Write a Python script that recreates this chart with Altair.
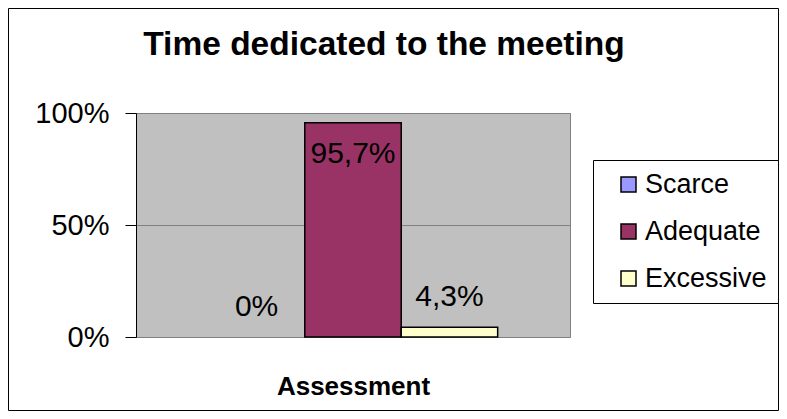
import altair as alt
import pandas as pd

categories = ["Scarce", "Adequate", "Excessive"]
values = [0.0, 95.7, 4.3]
colors = ["#9999FF", "#993366", "#FFFFCC"]
group = ["Assessment", "Assessment", "Assessment"]

df = pd.DataFrame({"group": group, "category": categories, "value": values})

FONT = "Liberation Sans"

base = alt.Chart(df).transform_calculate(
    frac="datum.value / 100",
    label="datum.value == 0 ? '0%' : replace(format(datum.value, '.1f'), '.', ',') + '%'",
)

x_enc = alt.X(
    "group:N",
    scale=alt.Scale(paddingInner=0, paddingOuter=0.25),
    axis=alt.Axis(
        labels=False, ticks=False, domain=False, title="Assessment",
        titleFont=FONT, titleFontSize=26, titleFontWeight="bold",
        titleColor="black", titlePadding=36,
    ),
)
xo_enc = alt.XOffset(
    "category:N",
    scale=alt.Scale(domain=categories, paddingInner=0, paddingOuter=0),
)
y_enc = alt.Y(
    "frac:Q",
    scale=alt.Scale(domain=[0, 1]),
    axis=alt.Axis(
        values=[0, 0.5, 1], format=".0%", title=None,
        labelFont=FONT, labelFontSize=29, labelColor="black",
        labelPadding=16, tickSize=11, tickColor="black",
        domainColor="black", domainWidth=1,
        gridColor="#808080", gridWidth=1,
    ),
)

bars = base.mark_bar(stroke="black", strokeWidth=1.5).encode(
    x=x_enc,
    xOffset=xo_enc,
    y=y_enc,
    color=alt.Color(
        "category:N",
        scale=alt.Scale(domain=categories, range=colors),
        legend=alt.Legend(
            title=None, orient="none", legendX=457, legendY=47,
            labelFont=FONT, labelFontSize=27, labelColor="black",
            symbolType="square", symbolSize=225,
            symbolStrokeColor="black", symbolStrokeWidth=1.5,
            padding=11, symbolOffset=11, labelOffset=3, rowPadding=19,
            strokeColor="black", fillColor="white",
        ),
    ),
).transform_filter("datum.value > 0")

low_text = base.mark_text(
    font=FONT, fontSize=30, color="black", baseline="alphabetic", dy=-21.5
).encode(
    x=x_enc, xOffset=xo_enc, y=y_enc, text="label:N"
).transform_filter("datum.value < 90")

high_text = base.mark_text(
    font=FONT, fontSize=30, color="black", baseline="alphabetic", dy=40
).encode(
    x=x_enc, xOffset=xo_enc, y=y_enc, text="label:N"
).transform_filter("datum.value >= 90")

frame = alt.Chart(pd.DataFrame({"f": [0]})).mark_rect(
    filled=False, stroke="black", strokeWidth=1
).encode(
    x=alt.value(-127.5), x2=alt.value(642.5),
    y=alt.value(-104.5), y2=alt.value(297.5),
)

chart = alt.layer(bars, low_text, high_text, frame).properties(
    width=434,
    height=224,
    title=alt.TitleParams(
        "Time dedicated to the meeting",
        font=FONT, fontSize=33.5, fontWeight="bold", color="black",
        anchor="middle", dx=31, offset=0, dy=54,
    ),
    padding={"left": 128, "top": 105, "right": 209, "bottom": 74},
    autosize=alt.AutoSizeParams(type="none"),
).configure_view(
    fill="#C0C0C0", stroke="#808080", strokeWidth=1
)

chart.save("out.html", embed_options={"renderer": "svg", "actions": False})
